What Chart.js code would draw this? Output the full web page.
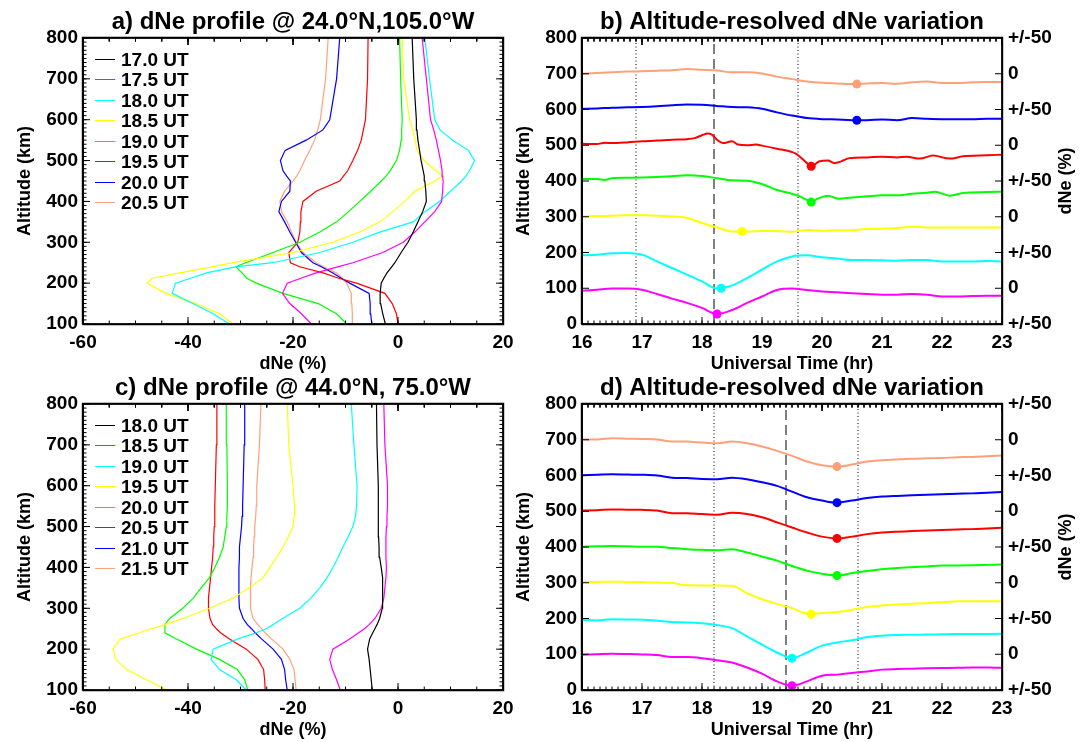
<!DOCTYPE html>
<html>
<head>
<meta charset="utf-8">
<script src="https://cdn.jsdelivr.net/npm/chart.js@4.4.0/dist/chart.umd.min.js"></script>
<style>
html,body{margin:0;padding:0;background:#fff;}
#wrap{position:relative;width:1088px;height:742px;overflow:hidden;background:#fff;}
canvas{position:absolute;left:0;top:0;}
</style>
</head>
<body>
<div id="wrap">
<canvas id="pa" width="1088" height="742"></canvas>
<canvas id="pb" width="1088" height="742"></canvas>
<canvas id="pc" width="1088" height="742"></canvas>
<canvas id="pd" width="1088" height="742"></canvas>
</div>
<script>
// ---------------- DATA ----------------
const profileColors = ['#000000','#ff00ff','#00ffff','#ffff00','#00ff00','#ff0000','#0000ff','#ffa07a'];

const labelsA = ['17.0 UT','17.5 UT','18.0 UT','18.5 UT','19.0 UT','19.5 UT','20.0 UT','20.5 UT'];
const altA = [100,125,150,175,200,212,225,240,250,275,300,325,350,375,400,425,450,462,475,500,525,550,575,600,700,800];
const a170 = [-2.4,-2.9,-3.3,-3.4,-3.2,-2.7,-2.1,-1.2,-0.6,0.6,1.9,2.9,3.8,4.7,5.4,5.3,5.1,5.0,4.8,4.4,4.1,3.8,3.6,3.5,3.0,2.7];
const a175 = [-16.5,-18.4,-20.6,-22.0,-21.1,-18.5,-15.6,-11.5,-8.6,-2.9,1.0,3.2,5.1,7.0,8.3,8.5,8.6,8.5,8.4,8.1,7.7,7.3,6.8,6.2,5.4,4.6];
const a180 = [-32.1,-35.2,-39.1,-43.0,-42.4,-39.5,-36.5,-31.0,-23.8,-14.9,-8.6,-3.5,2.9,5.1,7.9,10.0,12.1,12.9,13.6,14.6,13.4,10.4,8.0,7.0,6.0,5.1];
const a185 = [-31.4,-34.0,-38.5,-44.2,-47.8,-46.8,-41.6,-35.5,-31.4,-20.0,-12.4,-7.3,-3.5,-1.0,1.3,3.2,7.0,8.6,7.2,5.0,3.6,3.3,2.8,2.2,1.1,0.8];
const a190 = [-9.8,-11.7,-15.2,-21.9,-27.0,-28.8,-29.7,-30.9,-29.0,-23.8,-18.7,-14.9,-11.7,-9.4,-7.3,-5.2,-3.2,-2.3,-1.5,-0.3,0.3,0.6,0.7,0.8,0.5,0.3];
const a195 = [0.0,-0.3,-1.1,-2.5,-7.9,-11.3,-14.3,-18.7,-20.5,-20.8,-19.1,-18.7,-18.6,-18.5,-18.1,-15.6,-11.1,-10.4,-9.6,-8.6,-7.7,-7.0,-6.6,-6.2,-5.8,-5.7];
const a200 = [-5.0,-5.2,-5.3,-5.5,-9.2,-10.8,-12.4,-14.6,-16.2,-18.4,-19.5,-20.6,-21.6,-22.7,-22.2,-20.6,-20.5,-21.2,-21.9,-22.4,-21.5,-17.5,-14.3,-13.0,-11.7,-11.1];
const a205 = [-8.6,-8.7,-8.8,-8.9,-9.8,-10.6,-11.7,-14.2,-15.6,-18.1,-19.4,-20.3,-21.1,-22.2,-22.5,-21.6,-20.0,-19.3,-18.7,-17.8,-16.8,-15.9,-15.3,-14.8,-13.8,-13.3];

const labelsC = ['18.0 UT','18.5 UT','19.0 UT','19.5 UT','20.0 UT','20.5 UT','21.0 UT','21.5 UT'];
const altC = [100,125,150,175,200,225,240,250,260,275,300,325,350,375,400,425,450,475,500,525,550,600,700,800];
const c180 = [-4.9,-5.1,-5.3,-5.5,-5.8,-5.4,-4.8,-4.4,-4.0,-3.5,-3.0,-2.9,-2.9,-3.0,-3.2,-3.5,-3.6,-3.7,-3.7,-3.7,-3.8,-3.8,-4.0,-4.1];
const c185 = [-11.0,-11.7,-12.5,-13.0,-12.4,-9.2,-7.5,-6.4,-5.5,-4.4,-3.2,-2.7,-2.5,-2.3,-2.2,-2.3,-2.3,-2.3,-2.2,-2.1,-2.0,-2.0,-2.5,-2.7];
const c190 = [-28.9,-30.8,-34.0,-35.6,-35.2,-30.5,-27.0,-25.1,-23.8,-22.0,-18.7,-16.6,-14.9,-13.5,-12.4,-11.4,-10.5,-9.5,-8.6,-8.1,-7.9,-7.8,-8.4,-8.9];
const c195 = [-44.0,-47.9,-51.7,-53.7,-54.3,-52.9,-49.2,-47.0,-44.4,-41.0,-35.9,-31.4,-28.3,-25.7,-24.4,-23.1,-21.9,-20.9,-20.0,-19.8,-19.7,-20.0,-20.8,-21.1];
const c200 = [-28.6,-29.2,-30.6,-34.0,-38.4,-42.2,-44.4,-44.4,-44.4,-43.5,-41.0,-39.0,-37.5,-35.9,-34.9,-34.0,-33.3,-33.0,-32.7,-32.6,-32.5,-32.5,-32.6,-32.7];
const c205 = [-25.3,-25.4,-25.6,-26.7,-28.9,-32.1,-33.8,-34.6,-35.3,-35.8,-36.1,-36.1,-35.9,-35.7,-35.5,-35.3,-35.2,-35.1,-35.0,-34.9,-34.9,-34.8,-34.6,-34.5];
const c210 = [-21.1,-21.4,-21.6,-22.2,-23.8,-26.0,-27.2,-27.9,-28.7,-29.5,-30.2,-30.3,-30.3,-30.3,-30.3,-30.2,-30.2,-30.0,-29.8,-29.7,-29.6,-29.5,-29.3,-29.2];
const c215 = [-19.4,-19.6,-19.8,-20.6,-21.9,-24.1,-25.3,-26.0,-26.7,-27.6,-28.1,-28.1,-28.1,-28.0,-27.8,-27.6,-27.5,-27.4,-27.3,-27.1,-27.0,-26.9,-26.4,-26.1];

const stackColors = ['#ffa07a','#0000ff','#ff0000','#00ff00','#ffff00','#00ffff','#ff00ff'];
const baselines = [700,600,500,400,300,200,100];
const kmPerPercent = 2;
const timeGrid = [16,16.25,16.5,16.75,17,17.25,17.5,17.75,18,18.25,18.5,18.75,19,19.25,19.5,19.75,20,20.25,20.5,20.75,21,21.25,21.5,21.75,22,22.25,22.5,22.75,23];

const b700 = [0,1,2,3,3.5,4.2,5,6.5,5.5,4.5,2,2,0.5,-4,-7.5,-11,-12.5,-13.5,-14.5,-13.5,-13,-14,-12,-11,-13,-13,-12,-11.5,-11.5];
const b600 = [1,1.5,2.5,3,3.5,4.5,6,7,6.5,5,3.5,3,1,-4,-8.5,-12,-13.5,-14,-15,-15,-14,-15,-12,-13,-13.5,-13.5,-13.5,-13,-13];
const b500Time = [16,16.25,16.38,16.5,16.75,17,17.25,17.5,17.75,17.88,18,18.1,18.16,18.25,18.35,18.5,18.6,18.75,18.9,19,19.25,19.5,19.57,19.75,19.82,19.96,20.1,20.21,20.32,20.46,20.75,21,21.25,21.41,21.63,21.85,22.13,22.35,22.75,23];
const b500 = [2,1.75,3.5,3,4,5.5,6.5,7.8,8.5,10,14,16.5,15,7.8,3,5.5,1,0,1,-0.5,-4.8,-9.5,-12,-25,-29.5,-22.5,-21.5,-25,-22.5,-18,-17,-16,-17,-16,-18.7,-14.5,-18.7,-15.5,-14,-13.2];
const b400Time = [16,16.25,16.38,16.5,16.75,17,17.25,17.5,17.75,18,18.25,18.5,18.75,19,19.25,19.5,19.6,19.75,19.82,19.93,20.1,20.27,20.5,20.75,21,21.25,21.5,21.75,21.88,22.13,22.35,22.75,23];
const b400 = [2.8,2.8,1.5,4,4.5,5,5.7,6.5,8,7,4,1,0.5,-4.2,-12.5,-18,-20.5,-26.5,-29.5,-24.7,-20.5,-24.7,-23,-21.5,-20,-20,-17.7,-16.5,-15,-20.5,-16.7,-15.5,-15];
const b300 = [0.5,1,1.5,2,2,1.5,0.5,-1.7,-8.7,-15,-20.5,-20.5,-20,-20,-21,-18.5,-19.5,-19,-19,-17,-16.7,-15.7,-14,-15,-15,-15,-15,-15,-15.2];
const b200 = [-4,-3,-1.2,-0.7,-3,-12.5,-21.7,-31,-40.5,-50.5,-46,-35.7,-24,-12.5,-5.5,-4,-6.7,-8.5,-10.5,-10.5,-11,-11.5,-10.5,-10.5,-12.5,-12.5,-12.5,-12,-12.5];
const b100 = [-3.5,-2,-0.5,-0.5,-2,-8,-14.5,-20.5,-27.5,-36,-30.5,-20.5,-11.5,-2.5,-0.5,-2.5,-4.5,-5.7,-7,-8,-9,-9,-8,-9,-11.5,-11.5,-11,-10.5,-10.5];
const minTimeB = [20.58,20.58,19.82,19.82,18.67,18.32,18.25];
const minValB = [-14.5,-15,-29.5,-29.5,-20.5,-50,-36];
const markerLinesB = [16.9,18.2,19.6];

const d700 = [0.5,0.5,2,1.5,1,0.5,-2.5,-2.5,-4,-5,-2.5,-5,-9.5,-15.5,-22.5,-30.5,-35.7,-37.5,-34.7,-30.5,-28.7,-27.5,-26.5,-26,-25.5,-24.5,-24,-23,-22];
const d600 = [0.3,1,1.7,1.3,1,0,-3,-3.5,-5,-5.2,-3,-5.2,-9.5,-14.5,-22.5,-30.5,-35,-38,-35,-31.5,-29.5,-28.5,-27.7,-27,-26.2,-25.5,-25,-24,-23];
const d500 = [1,1.5,2.5,2.2,2,1,-2.7,-2.7,-4,-5,-2,-3.7,-8.5,-15.5,-22.7,-29.7,-35.5,-38,-35.5,-32,-29.7,-28.5,-27.7,-27,-26.2,-25.5,-25,-24,-23];
const d400 = [0.5,1,1.5,1,0.5,0.5,-1.5,-3,-4,-4.5,-3,-7.7,-13.2,-19,-26.5,-33,-37.5,-40,-36.5,-33.5,-31,-29.5,-28.3,-27.2,-26,-25.8,-25.5,-25,-24.5];
const d300 = [1,1.2,1.5,1.2,1,0.3,-0.5,-3.5,-3.7,-3.8,-4.2,-14.5,-23,-29.5,-35.5,-43,-42.5,-41,-38,-34,-31.7,-30.5,-29.5,-28.5,-27.2,-26,-25.7,-25.7,-25.7];
const d200 = [-1.7,-2.7,-1,-1.5,-1.7,-3,-5,-5.5,-6.5,-9.2,-13.5,-25,-36.7,-47.5,-55.5,-47.5,-38,-33.5,-30.5,-26,-24,-23,-22.7,-22.5,-22,-21.7,-21.7,-21.6,-21.5];
const d100 = [-0.7,0,0.7,0.3,-0.2,-1.1,-4,-4,-5.5,-8.5,-11.5,-18.5,-27.2,-38,-44,-38,-30,-28.5,-26.2,-24,-21.5,-20.7,-20.2,-19.7,-19.3,-19,-18.5,-18.7,-18.8];
const minTimeD = [20.25,20.25,20.25,20.25,19.82,19.5,19.5];
const minValD = [-37.5,-38,-38,-40,-44,-55.5,-44];
const markerLinesD = [18.2,19.4,20.6];

const rightTickLabels = ['+/-50','0','+/-50','0','+/-50','0','+/-50','0','+/-50'];

// ---------------- STYLE / HELPERS ----------------
const FONT = "'Liberation Sans', Arial, Helvetica, sans-serif";
Chart.defaults.font.family = FONT;
Chart.defaults.font.size = 19;
Chart.defaults.font.weight = 'bold';
Chart.defaults.color = '#000';
Chart.defaults.animation = false;
Chart.defaults.responsive = false;
Chart.defaults.plugins.legend.display = false;
Chart.defaults.plugins.tooltip.enabled = false;

const W = 1088, H = 742, PLOT_W = 420, PLOT_H = 286;
const fixW = w => s => { s.width = w; };
const fixH = h => s => { s.height = h; };

// frame + inward tick marks, expressed in data units of each panel's own scales
function frameDatasets(xmin, xmax, ymin, ymax, xMajor, xMinor, yMajor, yMinor) {
  const xu = (xmax - xmin) / PLOT_W, yu = (ymax - ymin) / PLOT_H;
  const tickPts = [];
  const seq = (lo, hi, st) => { const n = Math.round((hi - lo) / st), out = []; for (let i = 0; i <= n; i++) out.push(lo + i * st); return out; };
  const addX = (v, len) => { tickPts.push({x: v, y: ymin}, {x: v, y: ymin + len * yu}, {x: v, y: null}, {x: v, y: ymax}, {x: v, y: ymax - len * yu}, {x: v, y: null}); };
  const addY = (v, len) => { tickPts.push({x: xmin, y: v}, {x: xmin + len * xu, y: v}, {x: xmin, y: null}, {x: xmax, y: v}, {x: xmax - len * xu, y: v}, {x: xmax, y: null}); };
  if (xMinor) seq(xmin, xmax, xMinor).forEach(v => addX(v, 3.5));
  if (yMinor) seq(ymin, ymax, yMinor).forEach(v => addY(v, 3.5));
  seq(xmin, xmax, xMajor).forEach(v => addX(v, 7));
  seq(ymin, ymax, yMajor).forEach(v => addY(v, 7));
  const box = off => [
    {x: xmin - off * xu, y: ymin - off * yu}, {x: xmax + off * xu, y: ymin - off * yu},
    {x: xmax + off * xu, y: ymax + off * yu}, {x: xmin - off * xu, y: ymax + off * yu},
    {x: xmin - off * xu, y: ymin - off * yu}
  ];
  return [
    {data: box(0.6), borderColor: '#000', borderWidth: 1.2, pointRadius: 0, showLine: true, clip: false, spanGaps: false, tension: 0, order: -3},
    {data: box(-0.4), borderColor: '#000', borderWidth: 1, pointRadius: 0, showLine: true, clip: false, spanGaps: false, tension: 0, order: -2},
    {data: tickPts, borderColor: '#000', borderWidth: 1, pointRadius: 0, showLine: true, clip: false, spanGaps: false, tension: 0, order: -1}
  ];
}

const panelText = {
  id: 'panelText',
  afterDraw(chart, args, o) {
    const ctx = chart.ctx, a = chart.chartArea;
    const cx = (a.left + a.right) / 2, cy = (a.top + a.bottom) / 2;
    ctx.save();
    ctx.fillStyle = '#000';
    ctx.textAlign = 'center';
    ctx.textBaseline = 'alphabetic';
    ctx.font = 'bold 24px ' + FONT;
    ctx.fillText(o.title, cx, a.top - 9.5);
    ctx.font = 'bold 18px ' + FONT;
    ctx.fillText(o.xTitle, cx, a.bottom + 44.5);
    ctx.save(); ctx.translate(o.yTitleX, cy); ctx.rotate(-Math.PI / 2); ctx.fillText(o.yTitle, 0, 0); ctx.restore();
    if (o.rTitle) { ctx.save(); ctx.translate(o.rTitleX, cy); ctx.rotate(-Math.PI / 2); ctx.fillText(o.rTitle, 0, 0); ctx.restore(); }
    ctx.restore();
    if (o.legend) {
      ctx.save();
      ctx.font = 'bold 19px ' + FONT;
      ctx.textAlign = 'left';
      ctx.textBaseline = 'alphabetic';
      chart.data.datasets.filter(d => d.label).forEach((d, i) => {
        const yy = Math.round(a.top + 20.5 + i * 20.5);
        ctx.fillStyle = d.borderColor;
        ctx.fillRect(Math.round(a.left) + 12, yy, 20, 1);
        ctx.fillStyle = '#000';
        ctx.fillText(d.label, a.left + 38, yy + 7);
      });
      ctx.restore();
    }
  }
};

const noGrid = {display: false, drawTicks: false, tickLength: 0};

function profileChart(id, top, bottom, alts, series, labels, title) {
  const datasets = series.map((vals, i) => ({
    label: labels[i],
    data: vals.map((v, j) => ({x: v, y: alts[j]})),
    borderColor: profileColors[i], borderWidth: 1.2,
    pointRadius: 0, showLine: true, fill: false, tension: 0, order: 1
  }));
  frameDatasets(-60, 20, 100, 800, 20, 5, 100, 10).forEach(d => datasets.push(d));
  return new Chart(document.getElementById(id), {
    type: 'scatter',
    data: {datasets},
    options: {
      layout: {padding: {left: 0, top: top, right: W - 503, bottom: 0}},
      scales: {
        x: {type: 'linear', min: -60, max: 20,
            ticks: {stepSize: 20, padding: 7, maxRotation: 0, autoSkip: false, callback: v => String(v)},
            grid: noGrid, border: {display: false}, afterFit: fixH(H - bottom)},
        y: {type: 'linear', min: 100, max: 800,
            ticks: {stepSize: 100, padding: 5, autoSkip: false, callback: v => String(v)},
            grid: noGrid, border: {display: false}, afterFit: fixW(83)}
      },
      plugins: {
        panelText: {title, xTitle: 'dNe (%)', yTitle: 'Altitude (km)', yTitleX: 30, legend: true}
      }
    },
    plugins: [panelText]
  });
}

function stackChart(id, top, bottom, seriesTimes, seriesVals, minT, minV, markers, title) {
  const datasets = [];
  datasets.push({
    data: minT.map((t, i) => ({x: t, y: baselines[i] + kmPerPercent * minV[i]})),
    pointRadius: 4.5, pointBorderWidth: 0, pointBackgroundColor: stackColors.slice(),
    showLine: false, order: 0
  });
  seriesVals.forEach((vals, i) => {
    const times = seriesTimes[i];
    datasets.push({
      data: vals.map((v, j) => ({x: times[j], y: baselines[i] + kmPerPercent * v})),
      borderColor: stackColors[i], borderWidth: 2, pointRadius: 0,
      showLine: true, fill: false, cubicInterpolationMode: 'monotone', order: 1
    });
  });
  markers.forEach((t, i) => {
    datasets.push({
      data: [{x: t, y: 0}, {x: t, y: 800}],
      borderColor: '#000', borderWidth: 1, pointRadius: 0, showLine: true,
      borderDash: i === 1 ? [10, 5] : [1, 2.5], order: 2
    });
  });
  frameDatasets(16, 23, 0, 800, 1, 0.1, 100, 0).forEach(d => datasets.push(d));
  return new Chart(document.getElementById(id), {
    type: 'scatter',
    data: {datasets},
    options: {
      layout: {padding: {left: 0, top: top, right: 0, bottom: 0}},
      scales: {
        x: {type: 'linear', min: 16, max: 23,
            ticks: {stepSize: 1, padding: 7, maxRotation: 0, autoSkip: false, callback: v => String(v)},
            grid: noGrid, border: {display: false}, afterFit: fixH(H - bottom)},
        y: {type: 'linear', position: 'left', min: 0, max: 800,
            ticks: {stepSize: 100, padding: 5, autoSkip: false, callback: v => String(v)},
            grid: noGrid, border: {display: false}, afterFit: fixW(582)},
        y2: {type: 'linear', position: 'right', min: 0, max: 800,
            ticks: {stepSize: 100, padding: 6, autoSkip: false, callback: (v, i) => rightTickLabels[i]},
            grid: noGrid, border: {display: false}, afterFit: fixW(W - 1002)}
      },
      plugins: {
        panelText: {title, xTitle: 'Universal Time (hr)', yTitle: 'Altitude (km)', yTitleX: 529,
                    rTitle: 'dNe (%)', rTitleX: 1071, legend: false}
      }
    },
    plugins: [panelText]
  });
}

profileChart('pa', 38, 324, altA, [a170,a175,a180,a185,a190,a195,a200,a205], labelsA,
  'a) dNe profile @ 24.0\u00b0N,105.0\u00b0W');
profileChart('pc', 404, 690, altC, [c180,c185,c190,c195,c200,c205,c210,c215], labelsC,
  'c) dNe profile @ 44.0\u00b0N, 75.0\u00b0W');
stackChart('pb', 38, 324,
  [timeGrid, timeGrid, b500Time, b400Time, timeGrid, timeGrid, timeGrid],
  [b700, b600, b500, b400, b300, b200, b100], minTimeB, minValB, markerLinesB,
  'b) Altitude-resolved dNe variation');
stackChart('pd', 404, 690,
  [timeGrid, timeGrid, timeGrid, timeGrid, timeGrid, timeGrid, timeGrid],
  [d700, d600, d500, d400, d300, d200, d100], minTimeD, minValD, markerLinesD,
  'd) Altitude-resolved dNe variation');
</script>
</body>
</html>
